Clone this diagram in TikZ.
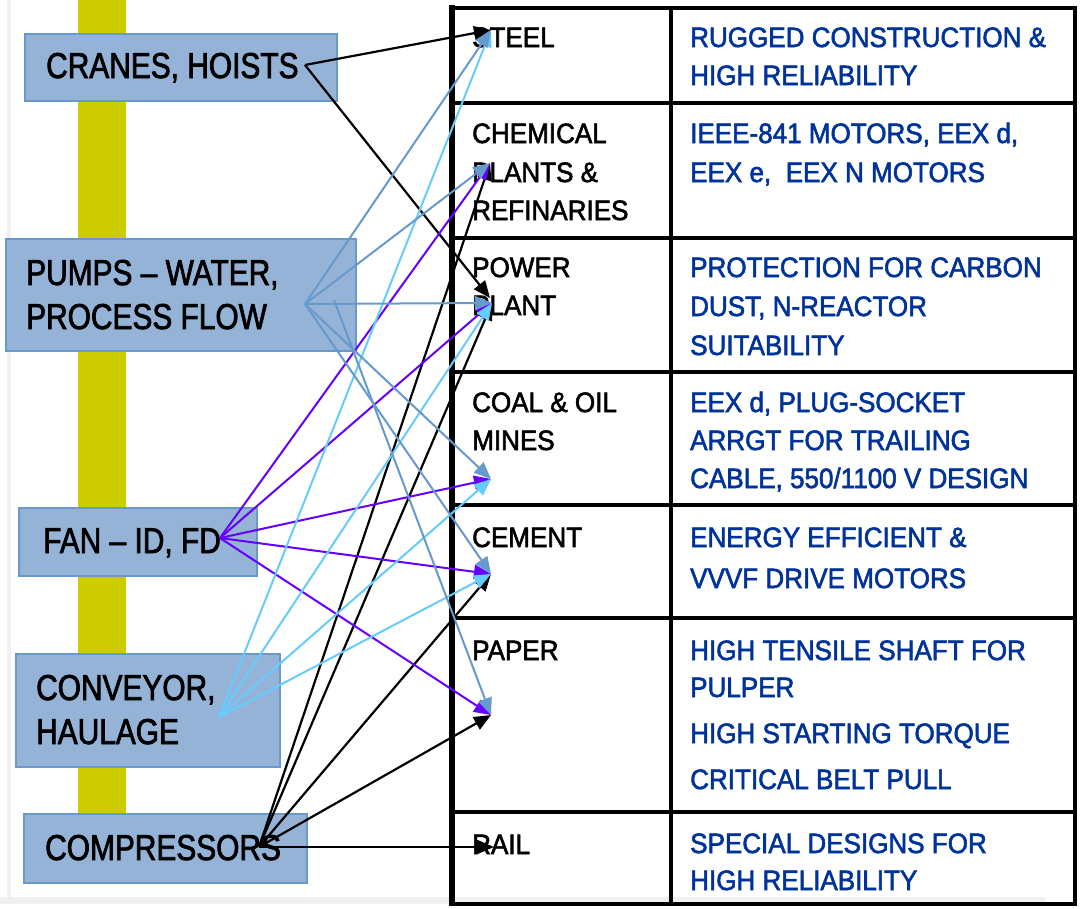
\documentclass[tikz,border=0pt]{standalone}
\usepackage{fontspec}
\setmainfont{Liberation Sans}
\newfontfamily\lfont[FakeStretch=0.83,FakeBold=2]{Liberation Sans}
\newfontfamily\tfont[FakeStretch=0.93,FakeBold=2]{Liberation Sans}
\usetikzlibrary{arrows.meta}
\definecolor{boxfill}{RGB}{149,179,215}
\definecolor{boxline}{RGB}{104,152,204}
\definecolor{barcol}{RGB}{204,204,0}
\definecolor{navy}{RGB}{0,51,153}
\definecolor{cPump}{RGB}{102,153,204}
\definecolor{cConv}{RGB}{102,204,255}
\definecolor{cFan}{RGB}{102,0,255}
\tikzset{
  lbox/.style={draw=boxline, line width=2pt, fill=boxfill, inner sep=0pt, anchor=north west},
  ltext/.style={anchor=base west, inner sep=0pt, font=\lfont\fontsize{36}{40}\selectfont},
  ttext/.style={anchor=base west, inner sep=0pt, font=\tfont\fontsize{28}{32}\selectfont},
  btext/.style={ttext, text=navy},
  conn/.style={line width=2pt, -{Triangle[length=17pt,width=14pt]}},
  blk/.style={conn, draw=black, line width=2.2pt},
  pmp/.style={conn, draw=cPump},
  cnv/.style={conn, draw=cConv},
  fan/.style={conn, draw=cFan},
  grid/.style={line width=4pt}
}
\begin{document}
\begin{tikzpicture}[x=1pt,y=-1pt]
\useasboundingbox (0,0) rectangle (1081,908);
\fill[white] (0,0) rectangle (1081,908);
% slide edge shading
\fill[black!6] (7,0) rectangle (11,904);
\fill[black!6] (0,897) rectangle (1045,904);
% yellow bar
\fill[barcol] (78,0) rectangle (126,813);

% left boxes
\node[lbox, minimum width=312pt, minimum height=67pt] (cranes) at (24,33) {};
\node[lbox, minimum width=350pt, minimum height=112pt] (pumps) at (5,238) {};
\node[lbox, minimum width=238pt, minimum height=68pt] (fanbox) at (18,507) {};
\node[lbox, minimum width=264pt, minimum height=113pt] (conv) at (15,653) {};
\node[lbox, minimum width=283pt, minimum height=69pt] (comp) at (23,813) {};

\node[ltext] (lcr) at (46,78) {CRANES, HOISTS};
\node[ltext] (lpu1) at (26,285) {PUMPS – WATER,};
\node[ltext] (lpu2) at (26,329) {PROCESS FLOW};
\node[ltext] (lfa) at (43,553) {FAN – ID, FD};
\node[ltext] (lco1) at (36,700) {CONVEYOR,};
\node[ltext] (lco2) at (36,744) {HAULAGE};
\node[ltext] (lcm) at (45,860) {COMPRESSORS};

% table
\draw[grid] (452,7.5) rectangle (1074.5,904);
\draw[line width=6pt] (452,5) -- (452,906);
\draw[grid] (670.5,7.5) -- (670.5,904);
\foreach \yy in {102.5,237.5,372,505,618,812}
  \draw[grid] (452,\yy) -- (1074.5,\yy);

% table texts, left column
\node[ttext] (a1) at (472,47) {STEEL};
\node[ttext] (a2) at (472,143) {CHEMICAL};
\node[ttext] (a3) at (472,182) {PLANTS \&};
\node[ttext] (a4) at (472,220) {REFINARIES};
\node[ttext] (a5) at (472,277) {POWER};
\node[ttext] (a6) at (472,315) {PLANT};
\node[ttext] (a7) at (472,412) {COAL \& OIL};
\node[ttext] (a8) at (472,450) {MINES};
\node[ttext] (a9) at (472,547) {CEMENT};
\node[ttext] (a10) at (472,660) {PAPER};
\node[ttext] (a11) at (472,854) {RAIL};

% table texts, right column
\node[btext] (b1) at (690,47) {RUGGED CONSTRUCTION \&};
\node[btext] (b2) at (690,85) {HIGH RELIABILITY};
\node[btext] (b3) at (690,143) {IEEE-841 MOTORS, EEX d,};
\node[btext] (b4) at (690,182) {EEX e,\ \ EEX N MOTORS};
\node[btext] (b5) at (690,277) {PROTECTION FOR CARBON};
\node[btext] (b6) at (690,316) {DUST, N-REACTOR};
\node[btext] (b7) at (690,355) {SUITABILITY};
\node[btext] (b8) at (690,412) {EEX d, PLUG-SOCKET};
\node[btext] (b9) at (690,450) {ARRGT FOR TRAILING};
\node[btext] (b10) at (690,488) {CABLE, 550/1100 V DESIGN};
\node[btext] (b11) at (690,547) {ENERGY EFFICIENT \&};
\node[btext] (b12) at (690,588) {VVVF DRIVE MOTORS};
\node[btext] (b13) at (690,660) {HIGH TENSILE SHAFT FOR};
\node[btext] (b14) at (690,697) {PULPER};
\node[btext] (b15) at (690,743) {HIGH STARTING TORQUE};
\node[btext] (b16) at (690,789) {CRITICAL BELT PULL};
\node[btext] (b17) at (690,853) {SPECIAL DESIGNS FOR};
\node[btext] (b18) at (690,890) {HIGH RELIABILITY};

% connector end points
\coordinate (sCr) at (305,65);
\coordinate (sPu) at (305,304);
\coordinate (sPu2) at (334,300);
\coordinate (sFa) at (220,538);
\coordinate (sCv) at (219,717);
\coordinate (sCm) at (259,847);
\coordinate (tSteel) at (491,30);
\coordinate (tChem) at (490,163);
\coordinate (tPower) at (492,303);
\coordinate (tPowerB) at (490,298);
\coordinate (tCoal) at (491,479);
\coordinate (tCement) at (491,574);
\coordinate (tPaper) at (491,715);
\coordinate (tRail) at (494,847);

% black connectors
\draw[blk] (sCr) -- (tSteel);
\draw[blk] (sCr) -- (tPowerB);
\draw[blk] (sCm) -- (tChem);
\draw[blk] (sCm) -- (tPower);
\draw[blk] (sCm) -- (tCement);
\draw[blk] (sCm) -- (tPaper);
\draw[blk] (sCm) -- (tRail);
% purple connectors
\draw[fan] (sFa) -- (tChem);
\draw[fan] (sFa) -- (tPower);
\draw[fan] (sFa) -- (tCoal);
\draw[fan] (sFa) -- (tCement);
\draw[fan] (sFa) -- (tPaper);
% light blue connectors
\draw[cnv] (sCv) -- (tSteel);
\draw[cnv] (sCv) -- (tPower);
\draw[cnv] (sCv) -- (tCoal);
\draw[cnv] (sCv) -- (tCement);
% steel blue connectors
\draw[pmp] (sPu) -- (tSteel);
\draw[pmp] (sPu) -- (tChem);
\draw[pmp] (sPu) -- (tPower);
\draw[pmp] (sPu) -- (tCoal);
\draw[pmp] (sPu) -- (tCement);
\draw[pmp] (sPu2) -- (tPaper);
\end{tikzpicture}
\end{document}
